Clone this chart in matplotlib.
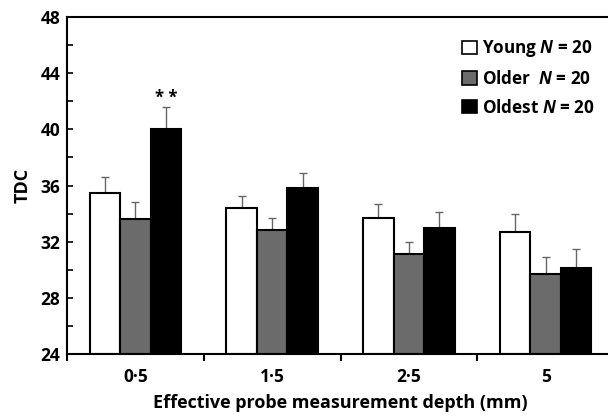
import matplotlib
matplotlib.use("Agg")
import matplotlib.pyplot as plt
from matplotlib.patches import Patch
import numpy as np

plt.rcParams['font.family'] = ['Open Sans', 'DejaVu Sans']
plt.rcParams['font.weight'] = 'bold'
plt.rcParams['mathtext.fontset'] = 'custom'
plt.rcParams['mathtext.it'] = 'Open Sans:bold:italic'
plt.rcParams['mathtext.rm'] = 'Open Sans:bold'

categories = ['0·5', '1·5', '2·5', '5']
series = ['Young', 'Older', 'Oldest']
young = [35.5, 34.4, 33.7, 32.7]
young_err = [1.1, 0.85, 1.0, 1.3]
older = [33.6, 32.8, 31.1, 29.7]
older_err = [1.2, 0.9, 0.9, 1.2]
oldest = [40.0, 35.85, 33.0, 30.1]
oldest_err = [1.6, 1.05, 1.1, 1.35]
legend_labels = ['Young $N$ = 20', 'Older  $N$ = 20', 'Oldest $N$ = 20']
colors = ['white', '#6b6b6b', 'black']

fig = plt.figure(figsize=(6.08, 4.17), dpi=100)
ax = fig.add_axes([67/608, 1-354/417, (614-67)/608, (354-17)/417])

x = np.arange(len(categories))
w = 0.223
data = [(young, young_err), (older, older_err), (oldest, oldest_err)]
for i, ((vals, errs), c) in enumerate(zip(data, colors)):
    pos = x + (i - 1) * w
    ax.bar(pos, np.array(vals) - 24, bottom=24, width=w, color=c, edgecolor='black',
           linewidth=1.5, zorder=2)
    ax.errorbar(pos, vals, yerr=[np.zeros(len(errs)), errs], fmt='none',
                ecolor='#666666', elinewidth=1.0, capsize=3, capthick=1.0, zorder=1)

ax.text(x[0] + w, oldest[0] + oldest_err[0] + 0.25, '* *', ha='center', va='baseline',
        fontsize=12, fontweight='bold')

ax.set_xlim(-0.5, 3.5)
ax.set_ylim(24, 48)
ax.set_yticks(np.arange(24, 49, 4))
ax.set_yticks(np.arange(26, 48, 4), minor=True)
ax.set_xticks(np.arange(-0.5, 4.0, 1.0))
ax.set_xticklabels([])
ax.set_xticks(x, minor=True)
ax.set_xticklabels(categories, minor=True)
ax.tick_params(axis='x', which='major', direction='out', length=5, width=1.5)
ax.tick_params(axis='x', which='minor', length=0, pad=10, labelsize=12.5)
ax.tick_params(axis='y', which='both', direction='in', length=4, width=1.2, labelsize=12.5, pad=5)
for s in ax.spines.values():
    s.set_linewidth(1.5)
for lab in ax.get_xticklabels(minor=True) + ax.get_yticklabels():
    lab.set_fontweight('bold')

ax.set_ylabel('TDC', fontsize=13, fontweight='bold', labelpad=6)
fig.text(340/608, 1-403/417, 'Effective probe measurement depth (mm)', ha='center',
         va='center', fontsize=13, fontweight='bold')

handles = [Patch(facecolor=c, edgecolor='black', linewidth=1.2) for c in colors]
leg = ax.legend(handles, legend_labels, loc='upper left', bbox_to_anchor=(447/608, 1-23/417),
                bbox_transform=fig.transFigure, frameon=False, fontsize=12.3,
                handlelength=0.85, handleheight=0.85, handletextpad=0.3, labelspacing=0.62)
for t in leg.get_texts():
    t.set_fontweight('bold')

fig.savefig('out.png', dpi=100)
